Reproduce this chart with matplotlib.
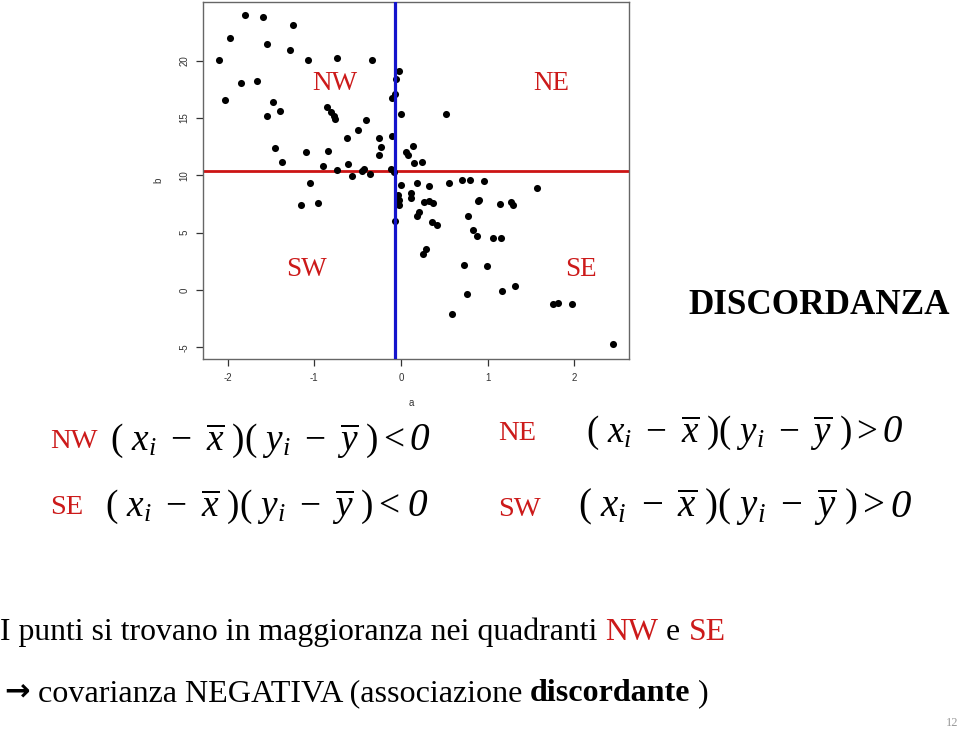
import matplotlib
matplotlib.use("Agg")
import matplotlib.pyplot as plt

# ---------------- data ----------------
a_vals = [-2.096, -2.03, -1.97, -1.80, -1.85, -1.66, -1.595, -1.55, -1.55, -1.476,
          -1.40, -1.457, -1.37, -1.25, -1.28, -1.07, -1.10, -0.896, -1.05, -0.838,
          -0.85, -0.807, -0.769, -0.757, -0.735, -0.74, -0.626, -0.615, -0.565, -0.50,
          -0.404, -0.45, -0.423, -0.361, -0.338, -0.254, -0.234, -0.25,
          -0.10, -0.115, -0.077, -0.10, -0.069, -0.058, -0.027, -0.003, 0.523, 0.138,
          0.054, 0.077, 0.146, 0.242, -0.003, 0.19, 0.32, 0.55, 0.707, 0.796, 0.957, 1.565,
          -0.03, -0.023, -0.023, 0.115, 0.115, 0.265, 0.323, 0.365, 0.208, 0.18,
          -0.066, 0.361, 0.419, 0.777, 0.884, 0.903, 1.142, 1.265, 1.292, 0.83,
          0.88, 1.065, 1.153, 0.285, 0.258, 0.727, 0.996, 0.761, 0.588, 1.169,
          1.311, 1.753, 1.815, 1.972, 2.445, -1.153, -0.957]
b_vals = [20.05, 16.56, 21.94, 23.98, 18.05, 18.22, 23.80, 21.47, 15.17, 16.36,
          15.63, 12.41, 11.19, 23.13, 20.90, 20.05, 12.0, 10.84, 9.30, 12.12,
          15.98, 15.49, 15.20, 14.91, 20.25, 10.46, 13.28, 11.01, 9.97, 13.95,
          14.82, 10.35, 10.52, 10.14, 20.05, 13.22, 12.50, 11.77,
          13.45, 10.58, 10.31, 16.77, 17.09, 18.40, 19.07, 15.32, 15.37, 12.58,
          12.0, 11.8, 11.07, 11.16, 9.13, 9.36, 9.09, 9.30, 9.62, 9.62, 9.48, 8.92,
          8.28, 7.85, 7.44, 8.48, 8.02, 7.65, 7.73, 7.58, 6.83, 6.48,
          6.04, 5.96, 5.67, 6.45, 7.76, 7.87, 7.47, 7.64, 7.41, 5.23,
          4.68, 4.56, 4.56, 3.57, 3.11, 2.18, 2.12, -0.32, -2.09, -0.12,
          0.38, -1.22, -1.13, -1.25, -4.74, 7.41, 7.61]
mean_a = -0.068
mean_b = 10.37
x_ticks = [-2, -1, 0, 1, 2]
y_ticks = [-5, 0, 5, 10, 15, 20]
quadrant_labels = ["NW", "NE", "SW", "SE"]

W, H = 960, 731
fig = plt.figure(figsize=(W / 100, H / 100), dpi=100)
fig.patch.set_facecolor("white")

def fx(px):
    return px / W

def fy(py):
    return 1 - py / H

RED = "#cc1a1a"
SERIF = ["Liberation Serif", "DejaVu Serif"]
plt.rcParams["mathtext.fontset"] = "custom"
plt.rcParams["mathtext.rm"] = "Liberation Serif"
plt.rcParams["mathtext.it"] = "Liberation Serif:italic"
plt.rcParams["mathtext.bf"] = "Liberation Serif:bold"

# ---------------- scatter axes ----------------
l, r, t, b = 203.3, 629.3, 1.7, 359.0
ax = fig.add_axes([fx(l), fy(b), (r - l) / W, (b - t) / H])
ax.scatter(a_vals, b_vals, s=26, color="black", zorder=3, linewidths=0)
ax.axvline(mean_a, color="#1414cc", lw=2.3, zorder=4)
ax.axhline(mean_b, color="#cc1414", lw=2.0, zorder=2)
ax.set_xlim(-2.28, 2.633)
ax.set_ylim(-6.02, 25.13)
ax.set_xticks(x_ticks)
ax.set_yticks(y_ticks)
ax.set_xticklabels([str(v) for v in x_ticks])
ax.set_yticklabels([str(v) for v in y_ticks], rotation=90, va="center")
ax.tick_params(axis="both", labelsize=7, colors="#333333", length=5, width=0.9, pad=5)
for lab in ax.get_xticklabels() + ax.get_yticklabels():
    lab.set_fontfamily(["Liberation Sans", "DejaVu Sans"])
for s in ax.spines.values():
    s.set_color("#666666")
    s.set_linewidth(1.0)

fig.text(fx(411), fy(403), "a", fontsize=7, color="#333333", ha="center", va="center",
         family=["Liberation Sans"])
fig.text(fx(158), fy(180), "b", fontsize=7, color="#333333", ha="center", va="center",
         rotation=90, family=["Liberation Sans"])

quad_pos = [(335, 84), (551, 84), (306, 270), (581, 270)]
for lab, (px, py) in zip(quadrant_labels, quad_pos):
    fig.text(fx(px), fy(py), lab, fontsize=19.5, color=RED, ha="center", va="center",
             family=SERIF)

fig.canvas.draw()
renderer = fig.canvas.get_renderer()

def fit_text(px_left, py, s, target_w, base=20, **kw):
    t = fig.text(fx(px_left), fy(py), s, fontsize=base, ha="left", **kw)
    w = t.get_window_extent(renderer).width
    t.set_fontsize(base * target_w / w)
    return t

# DISCORDANZA
fit_text(688, 305, "DISCORDANZA", 261, va="center", family=SERIF, weight="bold",
         color="black")

# equations (the trailing italic zero drawn as its own text)
eq_lt = r"$(\ x_i\ -\ \overline{x}\ )(\ y_i\ -\ \overline{y}\ ) <$"
eq_gt = r"$(\ x_i\ -\ \overline{x}\ )(\ y_i\ -\ \overline{y}\ ) >$"
for lab, px, py in [("NW", 50, 441), ("SE", 50, 508), ("NE", 498, 433), ("SW", 498, 509)]:
    fig.text(fx(px), fy(py), lab, fontsize=20.5, color=RED, ha="left", va="center",
             family=SERIF)

def equation(x0, x_end, x_zero, py, s):
    t = fit_text(x0, py, s, x_end - x0, va="baseline", color="black")
    fig.text(fx(x_zero), fy(py), "0", fontsize=t.get_fontsize() * 1.05, style="italic",
             family=SERIF, ha="left", va="baseline", color="black")

equation(110, 405, 409, 450, eq_lt)
equation(105, 400, 407, 516, eq_lt)
equation(586, 878, 883, 442, eq_gt)
equation(578, 885, 890, 517, eq_gt)

# bottom lines with mixed styles
def _split(kw):
    kw2 = dict(kw)
    kw2.setdefault("family", SERIF)
    sc = kw2.pop("scale", 1.0)
    dy = kw2.pop("dy", 0)
    return kw2, sc, dy

def rich_line(px_left, py_base, pieces, target_w, base=20):
    tmp = []
    total = 0
    for s, kw in pieces:
        kw2, sc, dy = _split(kw)
        tt = fig.text(0, 0, s, fontsize=base * sc, **kw2)
        total += tt.get_window_extent(renderer).width
        tmp.append(tt)
    for tt in tmp:
        tt.remove()
    size = base * target_w / total
    x = px_left
    for s, kw in pieces:
        kw2, sc, dy = _split(kw)
        tt = fig.text(fx(x), fy(py_base + dy), s, fontsize=size * sc, ha="left",
                      va="baseline", **kw2)
        x += tt.get_window_extent(renderer).width

rich_line(0, 640, [("I punti si trovano in maggioranza nei quadranti ", {"color": "black"}),
                   ("NW", {"color": RED}),
                   (" e ", {"color": "black"}),
                   ("SE", {"color": RED})], 727)
rich_line(4, 701, [("\u2192", {"color": "black", "family": ["DejaVu Sans"],
                               "weight": "bold", "scale": 0.95, "dy": -2}),
                   (" covarianza NEGATIVA (associazione ", {"color": "black"}),
                   ("discordante", {"color": "black", "weight": "bold"}),
                   (" )", {"color": "black"})], 705)

fig.text(fx(958), fy(723), "12", fontsize=9, color="#999999", ha="right", va="center",
         family=SERIF)

fig.savefig("out.png", dpi=100, facecolor="white")
